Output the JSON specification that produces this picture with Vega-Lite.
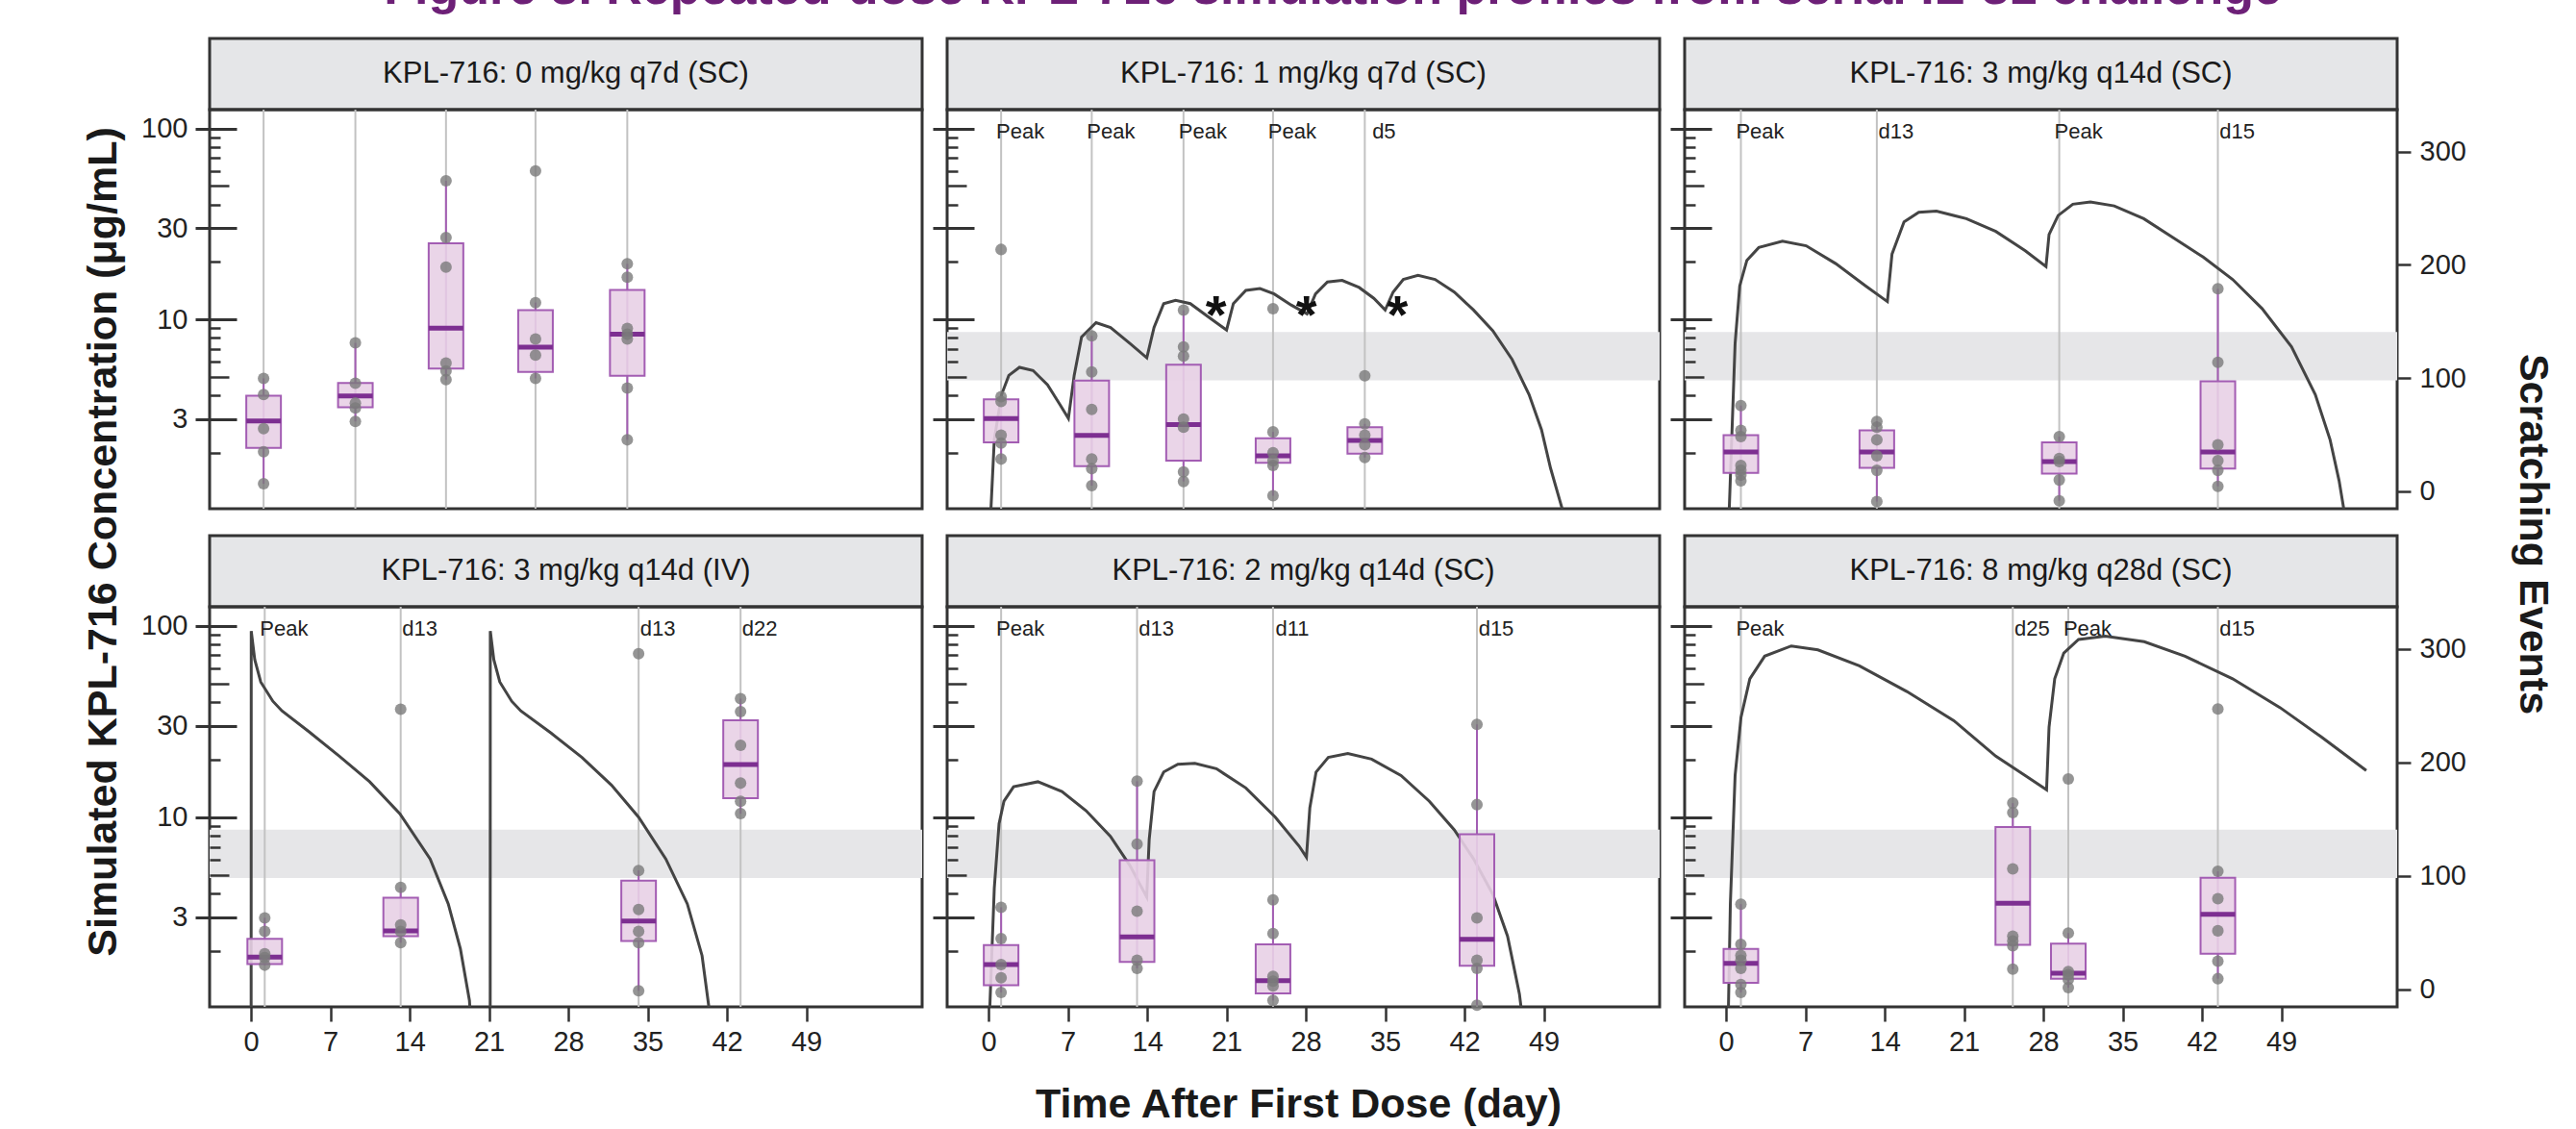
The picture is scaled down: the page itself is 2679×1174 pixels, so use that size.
{
  "$schema": "https://vega.github.io/schema/vega-lite/v6.json",
  "padding": {"top": -39, "left": 87, "right": 12, "bottom": 0},
  "background": "white",
  "config": {
    "font": "Liberation Sans",
    "view": {"stroke": "#333", "strokeWidth": 3},
    "axis": {"domain": false, "grid": false, "tickColor": "#333", "labelFont": "Liberation Sans", "labelFontSize": 29, "labelColor": "#222"},
    "text": {"font": "Liberation Sans"},
    "title": {"font": "Liberation Sans"}
  },
  "datasets": {
    "panels": [
      {"p": 1, "t": "KPL-716: 0 mg/kg q7d (SC)"},
      {"p": 2, "t": "KPL-716: 1 mg/kg q7d (SC)"},
      {"p": 3, "t": "KPL-716: 3 mg/kg q14d (SC)"},
      {"p": 4, "t": "KPL-716: 3 mg/kg q14d (IV)"},
      {"p": 5, "t": "KPL-716: 2 mg/kg q14d (SC)"},
      {"p": 6, "t": "KPL-716: 8 mg/kg q28d (SC)"}
    ],
    "band": [
      {"p": 2, "lo": 4.8, "hi": 8.6},
      {"p": 3, "lo": 4.8, "hi": 8.6},
      {"p": 4, "lo": 4.8, "hi": 8.6},
      {"p": 5, "lo": 4.8, "hi": 8.6},
      {"p": 6, "lo": 4.8, "hi": 8.6}
    ],
    "rules": [
      {"p": 1, "d": 1.1, "lab": ""}, {"p": 1, "d": 9.2, "lab": ""}, {"p": 1, "d": 17.2, "lab": ""}, {"p": 1, "d": 25.1, "lab": ""}, {"p": 1, "d": 33.2, "lab": ""},
      {"p": 2, "d": 1.1, "lab": "Peak"}, {"p": 2, "d": 9.1, "lab": "Peak"}, {"p": 2, "d": 17.2, "lab": "Peak"}, {"p": 2, "d": 25.1, "lab": "Peak"}, {"p": 2, "d": 33.2, "lab": "d5"},
      {"p": 3, "d": 1.3, "lab": "Peak"}, {"p": 3, "d": 13.3, "lab": "d13"}, {"p": 3, "d": 29.4, "lab": "Peak"}, {"p": 3, "d": 43.4, "lab": "d15"},
      {"p": 4, "d": 1.2, "lab": "Peak"}, {"p": 4, "d": 13.2, "lab": "d13"}, {"p": 4, "d": 34.2, "lab": "d13"}, {"p": 4, "d": 43.2, "lab": "d22"},
      {"p": 5, "d": 1.1, "lab": "Peak"}, {"p": 5, "d": 13.1, "lab": "d13"}, {"p": 5, "d": 25.1, "lab": "d11"}, {"p": 5, "d": 43.1, "lab": "d15"},
      {"p": 6, "d": 1.3, "lab": "Peak"}, {"p": 6, "d": 25.3, "lab": "d25"}, {"p": 6, "d": 30.2, "lab": "Peak"}, {"p": 6, "d": 43.4, "lab": "d15"}
    ],
    "box": [
      {"p": 1, "d": 1.1, "lo": 6.5, "q1": 38.2, "med": 62, "q3": 84.3, "hi": 99.6},
      {"p": 1, "d": 9.2, "lo": 61.6, "q1": 74.1, "med": 84, "q3": 95.6, "hi": 131},
      {"p": 1, "d": 17.2, "lo": 98.5, "q1": 108.4, "med": 144, "q3": 219, "hi": 274.3},
      {"p": 1, "d": 25.1, "lo": 99.6, "q1": 105.3, "med": 127.3, "q3": 159.9, "hi": 166.6},
      {"p": 1, "d": 33.2, "lo": 45.3, "q1": 101.9, "med": 138.6, "q3": 177.7, "hi": 200.9},
      {"p": 2, "d": 1.1, "lo": 28.3, "q1": 43, "med": 64.2, "q3": 81.2, "hi": 83.5},
      {"p": 2, "d": 9.1, "lo": 4.8, "q1": 22.1, "med": 49.2, "q3": 97.6, "hi": 137.2},
      {"p": 2, "d": 17.2, "lo": 8.5, "q1": 26.8, "med": 58.8, "q3": 111.7, "hi": 159.9},
      {"p": 2, "d": 25.1, "lo": -4.2, "q1": 24.9, "med": 31.1, "q3": 46.7, "hi": 52.3},
      {"p": 2, "d": 33.2, "lo": 29.7, "q1": 33.1, "med": 44.7, "q3": 56.5, "hi": 59.4},
      {"p": 3, "d": 1.3, "lo": 9, "q1": 16.1, "med": 34.5, "q3": 49.5, "hi": 75.6},
      {"p": 3, "d": 13.3, "lo": -9.3, "q1": 20.6, "med": 34.5, "q3": 53.7, "hi": 61.6},
      {"p": 3, "d": 29.4, "lo": -8.5, "q1": 15.5, "med": 26, "q3": 43, "hi": 48.1},
      {"p": 3, "d": 43.4, "lo": 4.2, "q1": 19.8, "med": 34.5, "q3": 97, "hi": 178.8},
      {"p": 4, "d": 1.2, "lo": 21.2, "q1": 22.1, "med": 28.3, "q3": 44.4, "hi": 62.9},
      {"p": 4, "d": 13.2, "lo": 41, "q1": 46.7, "med": 51.5, "q3": 80.7, "hi": 89.7},
      {"p": 4, "d": 34.2, "lo": -1.4, "q1": 42.5, "med": 60, "q3": 95.7, "hi": 104.7},
      {"p": 4, "d": 43.2, "lo": 154.8, "q1": 168.4, "med": 198.1, "q3": 237.2, "hi": 256.2},
      {"p": 5, "d": 1.1, "lo": -2.8, "q1": 3.4, "med": 21.8, "q3": 38.8, "hi": 72.2},
      {"p": 5, "d": 13.1, "lo": 18.4, "q1": 24, "med": 46.1, "q3": 113.8, "hi": 183.4},
      {"p": 5, "d": 25.1, "lo": -9.9, "q1": -3.7, "med": 7.6, "q3": 39.6, "hi": 78.7},
      {"p": 5, "d": 43.1, "lo": -14.2, "q1": 20.6, "med": 43.9, "q3": 136.7, "hi": 233.5},
      {"p": 6, "d": 1.3, "lo": -2.8, "q1": 5.7, "med": 22.7, "q3": 35.4, "hi": 75},
      {"p": 6, "d": 25.3, "lo": 17.6, "q1": 39.1, "med": 75.8, "q3": 142.9, "hi": 164.1},
      {"p": 6, "d": 30.2, "lo": 1.4, "q1": 9.3, "med": 14.1, "q3": 40.2, "hi": 49.5},
      {"p": 6, "d": 43.4, "lo": 9.3, "q1": 31.2, "med": 66, "q3": 98.2, "hi": 103.9}
    ],
    "pts": [
      {"p":1,"d":1.1,"s":99.6},{"p":1,"d":1.1,"s":85.4},{"p":1,"d":1.1,"s":55.2},{"p":1,"d":1.1,"s":34.8},{"p":1,"d":1.1,"s":6.5},
      {"p":1,"d":9.2,"s":131},{"p":1,"d":9.2,"s":95.3},{"p":1,"d":9.2,"s":77.8},{"p":1,"d":9.2,"s":73.5},{"p":1,"d":9.2,"s":61.6},
      {"p":1,"d":17.2,"s":274.3},{"p":1,"d":17.2,"s":224.1},{"p":1,"d":17.2,"s":198},{"p":1,"d":17.2,"s":113.2},{"p":1,"d":17.2,"s":106.1},{"p":1,"d":17.2,"s":98.5},
      {"p":1,"d":25.1,"s":283},{"p":1,"d":25.1,"s":166.6},{"p":1,"d":25.1,"s":134.4},{"p":1,"d":25.1,"s":120.2},{"p":1,"d":25.1,"s":99.6},
      {"p":1,"d":33.2,"s":200.9},{"p":1,"d":33.2,"s":189},{"p":1,"d":33.2,"s":143.7},{"p":1,"d":33.2,"s":138.6},{"p":1,"d":33.2,"s":134.4},{"p":1,"d":33.2,"s":91.1},{"p":1,"d":33.2,"s":45.3},
      {"p":2,"d":1.1,"s":213.6},{"p":2,"d":1.1,"s":83.5},{"p":2,"d":1.1,"s":79.2},{"p":2,"d":1.1,"s":49.5},{"p":2,"d":1.1,"s":42.5},{"p":2,"d":1.1,"s":28.3},
      {"p":2,"d":9.1,"s":137.2},{"p":2,"d":9.1,"s":105.3},{"p":2,"d":9.1,"s":72.2},{"p":2,"d":9.1,"s":28.3},{"p":2,"d":9.1,"s":19.8},{"p":2,"d":9.1,"s":4.8},
      {"p":2,"d":17.2,"s":159.9},{"p":2,"d":17.2,"s":127.4},{"p":2,"d":17.2,"s":119.4},{"p":2,"d":17.2,"s":63.7},{"p":2,"d":17.2,"s":56.5},{"p":2,"d":17.2,"s":17},{"p":2,"d":17.2,"s":8.5},
      {"p":2,"d":25.1,"s":161.3},{"p":2,"d":25.1,"s":52.3},{"p":2,"d":25.1,"s":34},{"p":2,"d":25.1,"s":26.8},{"p":2,"d":25.1,"s":22.6},{"p":2,"d":25.1,"s":-4.2},
      {"p":2,"d":33.2,"s":101.9},{"p":2,"d":33.2,"s":59.4},{"p":2,"d":33.2,"s":49.5},{"p":2,"d":33.2,"s":41},{"p":2,"d":33.2,"s":29.7},
      {"p":3,"d":1.3,"s":75.6},{"p":3,"d":1.3,"s":53.7},{"p":3,"d":1.3,"s":48.1},{"p":3,"d":1.3,"s":22.6},{"p":3,"d":1.3,"s":18.3},{"p":3,"d":1.3,"s":14.1},{"p":3,"d":1.3,"s":9},
      {"p":3,"d":13.3,"s":61.6},{"p":3,"d":13.3,"s":56.5},{"p":3,"d":13.3,"s":45.3},{"p":3,"d":13.3,"s":31.1},{"p":3,"d":13.3,"s":18.3},{"p":3,"d":13.3,"s":-9.3},
      {"p":3,"d":29.4,"s":48.1},{"p":3,"d":29.4,"s":28.9},{"p":3,"d":29.4,"s":26},{"p":3,"d":29.4,"s":9.8},{"p":3,"d":29.4,"s":-8.5},
      {"p":3,"d":43.4,"s":178.8},{"p":3,"d":43.4,"s":113.8},{"p":3,"d":43.4,"s":41},{"p":3,"d":43.4,"s":26.8},{"p":3,"d":43.4,"s":18.3},{"p":3,"d":43.4,"s":4.2},
      {"p":4,"d":1.2,"s":62.9},{"p":4,"d":1.2,"s":51},{"p":4,"d":1.2,"s":31.2},{"p":4,"d":1.2,"s":27.8},{"p":4,"d":1.2,"s":21.2},
      {"p":4,"d":13.2,"s":246.8},{"p":4,"d":13.2,"s":89.7},{"p":4,"d":13.2,"s":56.6},{"p":4,"d":13.2,"s":50.9},{"p":4,"d":13.2,"s":41},
      {"p":4,"d":34.2,"s":295.8},{"p":4,"d":34.2,"s":104.7},{"p":4,"d":34.2,"s":70.2},{"p":4,"d":34.2,"s":51},{"p":4,"d":34.2,"s":41},{"p":4,"d":34.2,"s":-1.4},
      {"p":4,"d":43.2,"s":256.2},{"p":4,"d":43.2,"s":244.8},{"p":4,"d":43.2,"s":215.1},{"p":4,"d":43.2,"s":181.7},{"p":4,"d":43.2,"s":165.6},{"p":4,"d":43.2,"s":154.8},
      {"p":5,"d":1.1,"s":72.2},{"p":5,"d":1.1,"s":44.7},{"p":5,"d":1.1,"s":21.8},{"p":5,"d":1.1,"s":10},{"p":5,"d":1.1,"s":-2.8},
      {"p":5,"d":13.1,"s":183.4},{"p":5,"d":13.1,"s":127.9},{"p":5,"d":13.1,"s":68.8},{"p":5,"d":13.1,"s":25.5},{"p":5,"d":13.1,"s":18.4},
      {"p":5,"d":25.1,"s":78.7},{"p":5,"d":25.1,"s":49},{"p":5,"d":25.1,"s":11.3},{"p":5,"d":25.1,"s":7},{"p":5,"d":25.1,"s":2.8},{"p":5,"d":25.1,"s":-9.9},
      {"p":5,"d":43.1,"s":233.5},{"p":5,"d":43.1,"s":162.8},{"p":5,"d":43.1,"s":62.8},{"p":5,"d":43.1,"s":25.5},{"p":5,"d":43.1,"s":18.4},{"p":5,"d":43.1,"s":-14.2},
      {"p":6,"d":1.3,"s":75},{"p":6,"d":1.3,"s":39.6},{"p":6,"d":1.3,"s":29.7},{"p":6,"d":1.3,"s":25.5},{"p":6,"d":1.3,"s":18.4},{"p":6,"d":1.3,"s":4.2},{"p":6,"d":1.3,"s":-2.8},
      {"p":6,"d":25.3,"s":164.1},{"p":6,"d":25.3,"s":155.7},{"p":6,"d":25.3,"s":106.1},{"p":6,"d":25.3,"s":46.7},{"p":6,"d":25.3,"s":42.5},{"p":6,"d":25.3,"s":38.2},{"p":6,"d":25.3,"s":17.6},
      {"p":6,"d":30.2,"s":185.4},{"p":6,"d":30.2,"s":49.5},{"p":6,"d":30.2,"s":15.5},{"p":6,"d":30.2,"s":12.7},{"p":6,"d":30.2,"s":8.5},{"p":6,"d":30.2,"s":1.4},
      {"p":6,"d":43.4,"s":247.1},{"p":6,"d":43.4,"s":103.9},{"p":6,"d":43.4,"s":79.8},{"p":6,"d":43.4,"s":51.5},{"p":6,"d":43.4,"s":24.6},{"p":6,"d":43.4,"s":9.3}
    ],
    "pk": [
      {"p":2,"d":0,"c":0.5},{"p":2,"d":0.16,"c":0.9},{"p":2,"d":0.5,"c":2.35},{"p":2,"d":1.14,"c":4.04},{"p":2,"d":1.78,"c":5.09},{"p":2,"d":2.72,"c":5.61},{"p":2,"d":3.92,"c":5.4},{"p":2,"d":5.2,"c":4.54},{"p":2,"d":6.27,"c":3.6},{"p":2,"d":7.04,"c":3.03},
      {"p":2,"d":7.55,"c":5.09},{"p":2,"d":8.2,"c":8.09},{"p":2,"d":9.48,"c":9.62},{"p":2,"d":10.76,"c":9.08},{"p":2,"d":12.47,"c":7.49},{"p":2,"d":13.96,"c":6.29},
      {"p":2,"d":14.6,"c":9.08},{"p":2,"d":15.45,"c":12.1},{"p":2,"d":16.5,"c":12.6},{"p":2,"d":17.8,"c":12.1},{"p":2,"d":19.3,"c":10.4},{"p":2,"d":21.0,"c":8.8},
      {"p":2,"d":21.6,"c":12.1},{"p":2,"d":22.7,"c":14.2},{"p":2,"d":23.95,"c":14.5},{"p":2,"d":25.2,"c":13.6},{"p":2,"d":26.7,"c":11.9},{"p":2,"d":28.1,"c":10.7},
      {"p":2,"d":28.85,"c":13.6},{"p":2,"d":29.9,"c":15.7},{"p":2,"d":31.2,"c":16.0},{"p":2,"d":32.7,"c":14.7},{"p":2,"d":34.0,"c":12.9},{"p":2,"d":35.0,"c":11.2},
      {"p":2,"d":35.7,"c":13.9},{"p":2,"d":36.6,"c":16.2},{"p":2,"d":37.9,"c":17.0},{"p":2,"d":39.4,"c":16.2},{"p":2,"d":41.1,"c":13.9},{"p":2,"d":42.8,"c":11.2},{"p":2,"d":44.5,"c":8.73},{"p":2,"d":46.2,"c":6.17},{"p":2,"d":47.7,"c":4.04},{"p":2,"d":48.8,"c":2.64},{"p":2,"d":49.6,"c":1.66},{"p":2,"d":50.6,"c":1.03},{"p":2,"d":51.0,"c":0.8},
      {"p":3,"d":0,"c":0.5},{"p":3,"d":0.27,"c":1.0},{"p":3,"d":0.79,"c":7.49},{"p":3,"d":1.2,"c":15.0},{"p":3,"d":1.83,"c":20.4},{"p":3,"d":2.88,"c":23.8},{"p":3,"d":4.97,"c":25.7},{"p":3,"d":7.06,"c":24.3},{"p":3,"d":9.67,"c":19.6},{"p":3,"d":12.3,"c":15.0},{"p":3,"d":14.23,"c":12.4},
      {"p":3,"d":14.64,"c":22.0},{"p":3,"d":15.7,"c":32.4},{"p":3,"d":17.0,"c":36.4},{"p":3,"d":18.56,"c":36.9},{"p":3,"d":21.2,"c":33.7},{"p":3,"d":23.8,"c":28.9},{"p":3,"d":26.4,"c":22.9},{"p":3,"d":28.23,"c":18.9},
      {"p":3,"d":28.5,"c":27.8},{"p":3,"d":29.3,"c":35.0},{"p":3,"d":30.6,"c":40.1},{"p":3,"d":32.15,"c":41.2},{"p":3,"d":34.25,"c":39.3},{"p":3,"d":36.86,"c":33.7},{"p":3,"d":39.5,"c":26.7},{"p":3,"d":42.1,"c":21.2},{"p":3,"d":44.7,"c":16.2},{"p":3,"d":47.3,"c":11.4},{"p":3,"d":49.9,"c":7.2},{"p":3,"d":52.0,"c":4.04},{"p":3,"d":53.3,"c":2.35},{"p":3,"d":54.1,"c":1.43},{"p":3,"d":54.5,"c":1.03},{"p":3,"d":54.7,"c":0.8},
      {"p":4,"d":0,"c":0.5},{"p":4,"d":0.01,"c":93.8},{"p":4,"d":0.32,"c":66.5},{"p":4,"d":0.85,"c":50.8},{"p":4,"d":1.92,"c":40.3},{"p":4,"d":2.72,"c":35.9},{"p":4,"d":5.12,"c":27.9},{"p":4,"d":7.79,"c":20.8},{"p":4,"d":10.46,"c":15.3},{"p":4,"d":13.13,"c":10.4},{"p":4,"d":15.8,"c":6.05},{"p":4,"d":17.4,"c":3.52},{"p":4,"d":18.47,"c":2.05},{"p":4,"d":19.27,"c":1.1},{"p":4,"d":19.6,"c":0.5},
      {"p":4,"d":21.1,"c":0.5},{"p":4,"d":21.11,"c":93.8},{"p":4,"d":21.42,"c":66.5},{"p":4,"d":21.95,"c":50.8},{"p":4,"d":23.0,"c":40.3},{"p":4,"d":23.8,"c":35.9},{"p":4,"d":26.5,"c":27.4},{"p":4,"d":29.2,"c":20.5},{"p":4,"d":31.8,"c":14.7},{"p":4,"d":34.2,"c":10.0},{"p":4,"d":36.6,"c":6.05},{"p":4,"d":38.5,"c":3.52},{"p":4,"d":39.8,"c":1.89},{"p":4,"d":40.4,"c":1.02},{"p":4,"d":40.6,"c":0.5},
      {"p":5,"d":0,"c":0.5},{"p":5,"d":0.1,"c":1.0},{"p":5,"d":0.5,"c":4.27},{"p":5,"d":0.92,"c":9.25},{"p":5,"d":1.35,"c":12.1},{"p":5,"d":2.2,"c":14.4},{"p":5,"d":4.35,"c":15.3},{"p":5,"d":6.47,"c":13.6},{"p":5,"d":8.6,"c":10.8},{"p":5,"d":10.75,"c":7.93},{"p":5,"d":12.46,"c":5.6},{"p":5,"d":13.95,"c":3.83},
      {"p":5,"d":14.17,"c":7.63},{"p":5,"d":14.6,"c":13.6},{"p":5,"d":15.45,"c":17.2},{"p":5,"d":16.7,"c":18.9},{"p":5,"d":18.2,"c":19.1},{"p":5,"d":20.1,"c":17.9},{"p":5,"d":22.7,"c":14.2},{"p":5,"d":25.3,"c":10.0},{"p":5,"d":27.4,"c":7.06},{"p":5,"d":28.05,"c":6.17},
      {"p":5,"d":28.35,"c":11.2},{"p":5,"d":28.9,"c":17.2},{"p":5,"d":29.98,"c":20.5},{"p":5,"d":31.7,"c":21.5},{"p":5,"d":33.8,"c":20.1},{"p":5,"d":36.4,"c":16.5},{"p":5,"d":38.9,"c":12.1},{"p":5,"d":41.1,"c":8.57},{"p":5,"d":42.8,"c":6.05},{"p":5,"d":44.5,"c":3.95},{"p":5,"d":45.8,"c":2.39},{"p":5,"d":46.85,"c":1.19},{"p":5,"d":47.1,"c":0.9},{"p":5,"d":47.3,"c":0.5},
      {"p":6,"d":0,"c":0.5},{"p":6,"d":0.2,"c":1.0},{"p":6,"d":0.37,"c":3.52},{"p":6,"d":0.79,"c":16.5},{"p":6,"d":1.31,"c":33.2},{"p":6,"d":2.09,"c":52.8},{"p":6,"d":3.4,"c":69.3},{"p":6,"d":5.75,"c":78.4},{"p":6,"d":8.1,"c":74.8},{"p":6,"d":11.76,"c":61.7},{"p":6,"d":15.95,"c":45.3},{"p":6,"d":20.1,"c":31.9},{"p":6,"d":23.8,"c":20.8},{"p":6,"d":26.4,"c":16.5},{"p":6,"d":28.28,"c":13.9},
      {"p":6,"d":28.5,"c":29.5},{"p":6,"d":29.0,"c":52.8},{"p":6,"d":29.8,"c":72.0},{"p":6,"d":31.1,"c":84.7},{"p":6,"d":33.46,"c":88.1},{"p":6,"d":36.9,"c":82.5},{"p":6,"d":40.5,"c":69.3},{"p":6,"d":44.7,"c":52.8},{"p":6,"d":48.9,"c":37.3},{"p":6,"d":52.5,"c":26.3},{"p":6,"d":56.5,"c":17.5}
    ],
    "stars": [
      {"p": 2, "d": 20.06, "c": 12.27},
      {"p": 2, "d": 28.05, "c": 12.27},
      {"p": 2, "d": 36.08, "c": 12.27}
    ]
  },
  "title": {"text": "Figure 3. Repeated-dose KPL-716 simulation profiles from serial IL-31 challenge", "fontSize": 52, "fontWeight": "bold", "color": "#6d2077", "anchor": "middle", "baseline": "alphabetic", "offset": -17, "dx": 15},
  "hconcat": [{
    "title": {"text": "Simulated KPL-716 Concentration (μg/mL)", "orient": "left", "fontSize": 43, "fontWeight": "bold", "color": "#1a1a1a", "anchor": "middle", "baseline": "bottom", "offset": -28, "dx": 41},
    "hconcat": [{
      "title": {"text": "Scratching Events", "orient": "right", "fontSize": 43, "fontWeight": "bold", "color": "#1a1a1a", "anchor": "middle", "baseline": "bottom", "offset": 3, "dx": -49},
      "hconcat": [{
        "title": {"text": "Time After First Dose (day)", "orient": "bottom", "fontSize": 43, "fontWeight": "bold", "color": "#1a1a1a", "anchor": "middle", "baseline": "top", "offset": 28, "dx": -5},
        "columns": 3,
        "bounds": "flush",
        "spacing": {"row": 0, "column": 26},
        "concat": [
          {"width": 741, "height": 74, "view": {"fill": "#e5e6e8", "stroke": "#333", "strokeWidth": 3}, "data": {"name": "panels"}, "transform": [{"filter": "datum.p == 1"}], "mark": {"type": "text", "fontSize": 31, "color": "#1a1a1a"}, "encoding": {"text": {"field": "t"}}},
          {"width": 741, "height": 74, "view": {"fill": "#e5e6e8", "stroke": "#333", "strokeWidth": 3}, "data": {"name": "panels"}, "transform": [{"filter": "datum.p == 2"}], "mark": {"type": "text", "fontSize": 31, "color": "#1a1a1a"}, "encoding": {"text": {"field": "t"}}},
          {"width": 741, "height": 74, "view": {"fill": "#e5e6e8", "stroke": "#333", "strokeWidth": 3}, "data": {"name": "panels"}, "transform": [{"filter": "datum.p == 3"}], "mark": {"type": "text", "fontSize": 31, "color": "#1a1a1a"}, "encoding": {"text": {"field": "t"}}},

          {"width": 741, "height": 415, "resolve": {"scale": {"y": "independent"}}, "layer": [
            {"data": {"name": "band"}, "transform": [{"filter": "datum.p == 1"}], "mark": {"type": "rect", "color": "#e6e6e8"}, "encoding": {"y": {"field": "lo", "type": "quantitative", "scale": {"type": "log", "domain": [1.02, 125.5], "nice": false}, "axis": {"orient": "left", "values": [3, 10, 30, 100], "format": "d", "offset": -28, "tickSize": 43, "tickWidth": 3, "labelPadding": 8, "title": null, "zindex": 1}}, "y2": {"field": "hi"}}},
            {"data": {"name": "rules"}, "transform": [{"filter": "datum.p == 1"}], "mark": {"type": "rule", "color": "#c2c2c2", "strokeWidth": 2}, "encoding": {"x": {"field": "d", "type": "quantitative", "scale": {"domain": [-3.24, 58.8], "nice": false, "zero": false}, "axis": null}}},
            {"data": {"name": "pk"}, "transform": [{"filter": "datum.p == 1"}], "mark": {"type": "line", "color": "#444", "strokeWidth": 3, "clip": true}, "encoding": {"x": {"field": "d", "type": "quantitative", "scale": {"domain": [-3.24, 58.8], "nice": false, "zero": false}, "axis": null}, "y": {"field": "c", "type": "quantitative", "scale": {"type": "log", "domain": [1.02, 125.5], "nice": false}, "axis": {"orient": "left", "values": [2, 4, 6, 7, 8, 9, 20, 40, 60, 70, 80, 90], "offset": -11, "tickSize": 11, "tickWidth": 2.5, "labels": false, "title": null, "zindex": 1}}}},
            {"data": {"name": "stars"}, "transform": [{"filter": "datum.p == 1"}], "mark": {"type": "text", "text": "*", "fontSize": 56, "fontWeight": "bold", "baseline": "alphabetic", "dy": 31, "color": "#111"}, "encoding": {"x": {"field": "d", "type": "quantitative", "scale": {"domain": [-3.24, 58.8], "nice": false, "zero": false}, "axis": null}, "y": {"field": "c", "type": "quantitative", "scale": {"type": "log", "domain": [1.02, 125.5], "nice": false}, "axis": {"orient": "left", "values": [5, 50], "offset": -20, "tickSize": 20, "tickWidth": 2.5, "labels": false, "title": null, "zindex": 1}}}},
            {"data": {"name": "box"}, "transform": [{"filter": "datum.p == 1"}], "mark": {"type": "rule", "color": "#a35db3", "strokeWidth": 2}, "encoding": {"x": {"field": "d", "type": "quantitative", "scale": {"domain": [-3.24, 58.8], "nice": false, "zero": false}, "axis": null}, "y": {"field": "lo", "type": "quantitative", "scale": {"domain": [-15.6, 337.2], "nice": false, "zero": false}, "axis": null}, "y2": {"field": "hi"}}},
            {"data": {"name": "box"}, "transform": [{"filter": "datum.p == 1"}], "mark": {"type": "bar", "width": 36, "fill": "#e8d0e6", "stroke": "#a35db3", "strokeWidth": 2, "fillOpacity": 0.9}, "encoding": {"x": {"field": "d", "type": "quantitative", "scale": {"domain": [-3.24, 58.8], "nice": false, "zero": false}, "axis": null}, "y": {"field": "q1", "type": "quantitative", "scale": {"domain": [-15.6, 337.2], "nice": false, "zero": false}, "axis": null}, "y2": {"field": "q3"}}},
            {"data": {"name": "box"}, "transform": [{"filter": "datum.p == 1"}], "mark": {"type": "tick", "orient": "horizontal", "size": 36, "thickness": 5, "color": "#7d2f91", "opacity": 1}, "encoding": {"x": {"field": "d", "type": "quantitative", "scale": {"domain": [-3.24, 58.8], "nice": false, "zero": false}, "axis": null}, "y": {"field": "med", "type": "quantitative", "scale": {"domain": [-15.6, 337.2], "nice": false, "zero": false}, "axis": null}}},
            {"data": {"name": "pts"}, "transform": [{"filter": "datum.p == 1"}], "mark": {"type": "circle", "size": 145, "color": "#7a7a7a", "opacity": 0.8}, "encoding": {"x": {"field": "d", "type": "quantitative", "scale": {"domain": [-3.24, 58.8], "nice": false, "zero": false}, "axis": null}, "y": {"field": "s", "type": "quantitative", "scale": {"domain": [-15.6, 337.2], "nice": false, "zero": false}, "axis": null}}}
          ]},

          {"width": 741, "height": 415, "resolve": {"scale": {"y": "independent"}}, "layer": [
            {"data": {"name": "band"}, "transform": [{"filter": "datum.p == 2"}], "mark": {"type": "rect", "color": "#e6e6e8"}, "encoding": {"y": {"field": "lo", "type": "quantitative", "scale": {"type": "log", "domain": [1.02, 125.5], "nice": false}, "axis": {"orient": "left", "values": [3, 10, 30, 100], "format": "d", "offset": -28, "tickSize": 43, "tickWidth": 3, "labels": false, "title": null, "zindex": 1}}, "y2": {"field": "hi"}}},
            {"data": {"name": "rules"}, "transform": [{"filter": "datum.p == 2"}], "mark": {"type": "rule", "color": "#c2c2c2", "strokeWidth": 2}, "encoding": {"x": {"field": "d", "type": "quantitative", "scale": {"domain": [-3.24, 58.8], "nice": false, "zero": false}, "axis": null}}},
            {"data": {"name": "rules"}, "transform": [{"filter": "datum.p == 2"}], "mark": {"type": "text", "fontSize": 22, "dx": 20, "color": "#222"}, "encoding": {"x": {"field": "d", "type": "quantitative", "scale": {"domain": [-3.24, 58.8], "nice": false, "zero": false}, "axis": null}, "y": {"datum": 96, "type": "quantitative", "scale": {"type": "log", "domain": [1.02, 125.5], "nice": false}, "axis": null}, "text": {"field": "lab"}}},
            {"data": {"name": "pk"}, "transform": [{"filter": "datum.p == 2"}], "mark": {"type": "line", "color": "#444", "strokeWidth": 3, "clip": true}, "encoding": {"x": {"field": "d", "type": "quantitative", "scale": {"domain": [-3.24, 58.8], "nice": false, "zero": false}, "axis": null}, "y": {"field": "c", "type": "quantitative", "scale": {"type": "log", "domain": [1.02, 125.5], "nice": false}, "axis": {"orient": "left", "values": [2, 4, 6, 7, 8, 9, 20, 40, 60, 70, 80, 90], "offset": -11, "tickSize": 11, "tickWidth": 2.5, "labels": false, "title": null, "zindex": 1}}}},
            {"data": {"name": "stars"}, "transform": [{"filter": "datum.p == 2"}], "mark": {"type": "text", "text": "*", "fontSize": 56, "fontWeight": "bold", "baseline": "alphabetic", "dy": 31, "color": "#111"}, "encoding": {"x": {"field": "d", "type": "quantitative", "scale": {"domain": [-3.24, 58.8], "nice": false, "zero": false}, "axis": null}, "y": {"field": "c", "type": "quantitative", "scale": {"type": "log", "domain": [1.02, 125.5], "nice": false}, "axis": {"orient": "left", "values": [5, 50], "offset": -20, "tickSize": 20, "tickWidth": 2.5, "labels": false, "title": null, "zindex": 1}}}},
            {"data": {"name": "box"}, "transform": [{"filter": "datum.p == 2"}], "mark": {"type": "rule", "color": "#a35db3", "strokeWidth": 2}, "encoding": {"x": {"field": "d", "type": "quantitative", "scale": {"domain": [-3.24, 58.8], "nice": false, "zero": false}, "axis": null}, "y": {"field": "lo", "type": "quantitative", "scale": {"domain": [-15.6, 337.2], "nice": false, "zero": false}, "axis": null}, "y2": {"field": "hi"}}},
            {"data": {"name": "box"}, "transform": [{"filter": "datum.p == 2"}], "mark": {"type": "bar", "width": 36, "fill": "#e8d0e6", "stroke": "#a35db3", "strokeWidth": 2, "fillOpacity": 0.9}, "encoding": {"x": {"field": "d", "type": "quantitative", "scale": {"domain": [-3.24, 58.8], "nice": false, "zero": false}, "axis": null}, "y": {"field": "q1", "type": "quantitative", "scale": {"domain": [-15.6, 337.2], "nice": false, "zero": false}, "axis": null}, "y2": {"field": "q3"}}},
            {"data": {"name": "box"}, "transform": [{"filter": "datum.p == 2"}], "mark": {"type": "tick", "orient": "horizontal", "size": 36, "thickness": 5, "color": "#7d2f91", "opacity": 1}, "encoding": {"x": {"field": "d", "type": "quantitative", "scale": {"domain": [-3.24, 58.8], "nice": false, "zero": false}, "axis": null}, "y": {"field": "med", "type": "quantitative", "scale": {"domain": [-15.6, 337.2], "nice": false, "zero": false}, "axis": null}}},
            {"data": {"name": "pts"}, "transform": [{"filter": "datum.p == 2"}], "mark": {"type": "circle", "size": 145, "color": "#7a7a7a", "opacity": 0.8}, "encoding": {"x": {"field": "d", "type": "quantitative", "scale": {"domain": [-3.24, 58.8], "nice": false, "zero": false}, "axis": null}, "y": {"field": "s", "type": "quantitative", "scale": {"domain": [-15.6, 337.2], "nice": false, "zero": false}, "axis": null}}}
          ]},

          {"width": 741, "height": 415, "resolve": {"scale": {"y": "independent"}}, "layer": [
            {"data": {"name": "band"}, "transform": [{"filter": "datum.p == 3"}], "mark": {"type": "rect", "color": "#e6e6e8"}, "encoding": {"y": {"field": "lo", "type": "quantitative", "scale": {"type": "log", "domain": [1.02, 125.5], "nice": false}, "axis": {"orient": "left", "values": [3, 10, 30, 100], "format": "d", "offset": -28, "tickSize": 43, "tickWidth": 3, "labels": false, "title": null, "zindex": 1}}, "y2": {"field": "hi"}}},
            {"data": {"name": "rules"}, "transform": [{"filter": "datum.p == 3"}], "mark": {"type": "rule", "color": "#c2c2c2", "strokeWidth": 2}, "encoding": {"x": {"field": "d", "type": "quantitative", "scale": {"domain": [-3.24, 58.8], "nice": false, "zero": false}, "axis": null}}},
            {"data": {"name": "rules"}, "transform": [{"filter": "datum.p == 3"}], "mark": {"type": "text", "fontSize": 22, "dx": 20, "color": "#222"}, "encoding": {"x": {"field": "d", "type": "quantitative", "scale": {"domain": [-3.24, 58.8], "nice": false, "zero": false}, "axis": null}, "y": {"datum": 96, "type": "quantitative", "scale": {"type": "log", "domain": [1.02, 125.5], "nice": false}, "axis": null}, "text": {"field": "lab"}}},
            {"data": {"name": "pk"}, "transform": [{"filter": "datum.p == 3"}], "mark": {"type": "line", "color": "#444", "strokeWidth": 3, "clip": true}, "encoding": {"x": {"field": "d", "type": "quantitative", "scale": {"domain": [-3.24, 58.8], "nice": false, "zero": false}, "axis": null}, "y": {"field": "c", "type": "quantitative", "scale": {"type": "log", "domain": [1.02, 125.5], "nice": false}, "axis": {"orient": "left", "values": [2, 4, 6, 7, 8, 9, 20, 40, 60, 70, 80, 90], "offset": -11, "tickSize": 11, "tickWidth": 2.5, "labels": false, "title": null, "zindex": 1}}}},
            {"data": {"name": "stars"}, "transform": [{"filter": "datum.p == 3"}], "mark": {"type": "text", "text": "*", "fontSize": 56, "fontWeight": "bold", "baseline": "alphabetic", "dy": 31, "color": "#111"}, "encoding": {"x": {"field": "d", "type": "quantitative", "scale": {"domain": [-3.24, 58.8], "nice": false, "zero": false}, "axis": null}, "y": {"field": "c", "type": "quantitative", "scale": {"type": "log", "domain": [1.02, 125.5], "nice": false}, "axis": {"orient": "left", "values": [5, 50], "offset": -20, "tickSize": 20, "tickWidth": 2.5, "labels": false, "title": null, "zindex": 1}}}},
            {"data": {"name": "box"}, "transform": [{"filter": "datum.p == 3"}], "mark": {"type": "rule", "color": "#a35db3", "strokeWidth": 2}, "encoding": {"x": {"field": "d", "type": "quantitative", "scale": {"domain": [-3.24, 58.8], "nice": false, "zero": false}, "axis": null}, "y": {"field": "lo", "type": "quantitative", "scale": {"domain": [-15.6, 337.2], "nice": false, "zero": false}, "axis": {"orient": "right", "values": [0, 100, 200, 300], "tickSize": 14, "tickWidth": 2.5, "labelPadding": 9, "title": null}}, "y2": {"field": "hi"}}},
            {"data": {"name": "box"}, "transform": [{"filter": "datum.p == 3"}], "mark": {"type": "bar", "width": 36, "fill": "#e8d0e6", "stroke": "#a35db3", "strokeWidth": 2, "fillOpacity": 0.9}, "encoding": {"x": {"field": "d", "type": "quantitative", "scale": {"domain": [-3.24, 58.8], "nice": false, "zero": false}, "axis": null}, "y": {"field": "q1", "type": "quantitative", "scale": {"domain": [-15.6, 337.2], "nice": false, "zero": false}, "axis": null}, "y2": {"field": "q3"}}},
            {"data": {"name": "box"}, "transform": [{"filter": "datum.p == 3"}], "mark": {"type": "tick", "orient": "horizontal", "size": 36, "thickness": 5, "color": "#7d2f91", "opacity": 1}, "encoding": {"x": {"field": "d", "type": "quantitative", "scale": {"domain": [-3.24, 58.8], "nice": false, "zero": false}, "axis": null}, "y": {"field": "med", "type": "quantitative", "scale": {"domain": [-15.6, 337.2], "nice": false, "zero": false}, "axis": null}}},
            {"data": {"name": "pts"}, "transform": [{"filter": "datum.p == 3"}], "mark": {"type": "circle", "size": 145, "color": "#7a7a7a", "opacity": 0.8}, "encoding": {"x": {"field": "d", "type": "quantitative", "scale": {"domain": [-3.24, 58.8], "nice": false, "zero": false}, "axis": null}, "y": {"field": "s", "type": "quantitative", "scale": {"domain": [-15.6, 337.2], "nice": false, "zero": false}, "axis": null}}}
          ]},

          {"width": 741, "height": 102, "view": {"stroke": null}, "data": {"name": "panels"}, "transform": [{"filter": "datum.p == 4"}], "layer": [
            {"mark": {"type": "rect", "fill": "#e5e6e8", "stroke": "#333", "strokeWidth": 3}, "encoding": {"y": {"datum": 0, "type": "quantitative", "scale": {"domain": [0, 102], "nice": false, "zero": false}, "axis": null}, "y2": {"datum": 74}}},
            {"mark": {"type": "text", "fontSize": 31, "color": "#1a1a1a"}, "encoding": {"y": {"datum": 37, "type": "quantitative", "scale": {"domain": [0, 102], "nice": false, "zero": false}, "axis": null}, "text": {"field": "t"}}}
          ]},
          {"width": 741, "height": 102, "view": {"stroke": null}, "data": {"name": "panels"}, "transform": [{"filter": "datum.p == 5"}], "layer": [
            {"mark": {"type": "rect", "fill": "#e5e6e8", "stroke": "#333", "strokeWidth": 3}, "encoding": {"y": {"datum": 0, "type": "quantitative", "scale": {"domain": [0, 102], "nice": false, "zero": false}, "axis": null}, "y2": {"datum": 74}}},
            {"mark": {"type": "text", "fontSize": 31, "color": "#1a1a1a"}, "encoding": {"y": {"datum": 37, "type": "quantitative", "scale": {"domain": [0, 102], "nice": false, "zero": false}, "axis": null}, "text": {"field": "t"}}}
          ]},
          {"width": 741, "height": 102, "view": {"stroke": null}, "data": {"name": "panels"}, "transform": [{"filter": "datum.p == 6"}], "layer": [
            {"mark": {"type": "rect", "fill": "#e5e6e8", "stroke": "#333", "strokeWidth": 3}, "encoding": {"y": {"datum": 0, "type": "quantitative", "scale": {"domain": [0, 102], "nice": false, "zero": false}, "axis": null}, "y2": {"datum": 74}}},
            {"mark": {"type": "text", "fontSize": 31, "color": "#1a1a1a"}, "encoding": {"y": {"datum": 37, "type": "quantitative", "scale": {"domain": [0, 102], "nice": false, "zero": false}, "axis": null}, "text": {"field": "t"}}}
          ]},

          {"width": 741, "height": 416, "resolve": {"scale": {"y": "independent"}}, "layer": [
            {"data": {"name": "band"}, "transform": [{"filter": "datum.p == 4"}], "mark": {"type": "rect", "color": "#e6e6e8"}, "encoding": {"y": {"field": "lo", "type": "quantitative", "scale": {"type": "log", "domain": [1.02, 125.5], "nice": false}, "axis": {"orient": "left", "values": [3, 10, 30, 100], "format": "d", "offset": -28, "tickSize": 43, "tickWidth": 3, "labelPadding": 8, "title": null, "zindex": 1}}, "y2": {"field": "hi"}}},
            {"data": {"name": "rules"}, "transform": [{"filter": "datum.p == 4"}], "mark": {"type": "rule", "color": "#c2c2c2", "strokeWidth": 2}, "encoding": {"x": {"field": "d", "type": "quantitative", "scale": {"domain": [-3.24, 58.8], "nice": false, "zero": false}, "axis": {"orient": "bottom", "values": [0, 7, 14, 21, 28, 35, 42, 49], "tickSize": 15, "tickWidth": 2.5, "labelPadding": 7, "title": null}}}},
            {"data": {"name": "rules"}, "transform": [{"filter": "datum.p == 4"}], "mark": {"type": "text", "fontSize": 22, "dx": 20, "color": "#222"}, "encoding": {"x": {"field": "d", "type": "quantitative", "scale": {"domain": [-3.24, 58.8], "nice": false, "zero": false}, "axis": {"orient": "bottom", "values": [0, 7, 14, 21, 28, 35, 42, 49], "tickSize": 15, "tickWidth": 2.5, "labelPadding": 7, "title": null}}, "y": {"datum": 96, "type": "quantitative", "scale": {"type": "log", "domain": [1.02, 125.5], "nice": false}, "axis": null}, "text": {"field": "lab"}}},
            {"data": {"name": "pk"}, "transform": [{"filter": "datum.p == 4"}], "mark": {"type": "line", "color": "#444", "strokeWidth": 3, "clip": true}, "encoding": {"x": {"field": "d", "type": "quantitative", "scale": {"domain": [-3.24, 58.8], "nice": false, "zero": false}, "axis": {"orient": "bottom", "values": [0, 7, 14, 21, 28, 35, 42, 49], "tickSize": 15, "tickWidth": 2.5, "labelPadding": 7, "title": null}}, "y": {"field": "c", "type": "quantitative", "scale": {"type": "log", "domain": [1.02, 125.5], "nice": false}, "axis": {"orient": "left", "values": [2, 4, 6, 7, 8, 9, 20, 40, 60, 70, 80, 90], "offset": -11, "tickSize": 11, "tickWidth": 2.5, "labels": false, "title": null, "zindex": 1}}}},
            {"data": {"name": "stars"}, "transform": [{"filter": "datum.p == 4"}], "mark": {"type": "text", "text": "*", "fontSize": 56, "fontWeight": "bold", "baseline": "alphabetic", "dy": 31, "color": "#111"}, "encoding": {"x": {"field": "d", "type": "quantitative", "scale": {"domain": [-3.24, 58.8], "nice": false, "zero": false}, "axis": {"orient": "bottom", "values": [0, 7, 14, 21, 28, 35, 42, 49], "tickSize": 15, "tickWidth": 2.5, "labelPadding": 7, "title": null}}, "y": {"field": "c", "type": "quantitative", "scale": {"type": "log", "domain": [1.02, 125.5], "nice": false}, "axis": {"orient": "left", "values": [5, 50], "offset": -20, "tickSize": 20, "tickWidth": 2.5, "labels": false, "title": null, "zindex": 1}}}},
            {"data": {"name": "box"}, "transform": [{"filter": "datum.p == 4"}], "mark": {"type": "rule", "color": "#a35db3", "strokeWidth": 2}, "encoding": {"x": {"field": "d", "type": "quantitative", "scale": {"domain": [-3.24, 58.8], "nice": false, "zero": false}, "axis": {"orient": "bottom", "values": [0, 7, 14, 21, 28, 35, 42, 49], "tickSize": 15, "tickWidth": 2.5, "labelPadding": 7, "title": null}}, "y": {"field": "lo", "type": "quantitative", "scale": {"domain": [-15.6, 337.2], "nice": false, "zero": false}, "axis": null}, "y2": {"field": "hi"}}},
            {"data": {"name": "box"}, "transform": [{"filter": "datum.p == 4"}], "mark": {"type": "bar", "width": 36, "fill": "#e8d0e6", "stroke": "#a35db3", "strokeWidth": 2, "fillOpacity": 0.9}, "encoding": {"x": {"field": "d", "type": "quantitative", "scale": {"domain": [-3.24, 58.8], "nice": false, "zero": false}, "axis": {"orient": "bottom", "values": [0, 7, 14, 21, 28, 35, 42, 49], "tickSize": 15, "tickWidth": 2.5, "labelPadding": 7, "title": null}}, "y": {"field": "q1", "type": "quantitative", "scale": {"domain": [-15.6, 337.2], "nice": false, "zero": false}, "axis": null}, "y2": {"field": "q3"}}},
            {"data": {"name": "box"}, "transform": [{"filter": "datum.p == 4"}], "mark": {"type": "tick", "orient": "horizontal", "size": 36, "thickness": 5, "color": "#7d2f91", "opacity": 1}, "encoding": {"x": {"field": "d", "type": "quantitative", "scale": {"domain": [-3.24, 58.8], "nice": false, "zero": false}, "axis": {"orient": "bottom", "values": [0, 7, 14, 21, 28, 35, 42, 49], "tickSize": 15, "tickWidth": 2.5, "labelPadding": 7, "title": null}}, "y": {"field": "med", "type": "quantitative", "scale": {"domain": [-15.6, 337.2], "nice": false, "zero": false}, "axis": null}}},
            {"data": {"name": "pts"}, "transform": [{"filter": "datum.p == 4"}], "mark": {"type": "circle", "size": 145, "color": "#7a7a7a", "opacity": 0.8}, "encoding": {"x": {"field": "d", "type": "quantitative", "scale": {"domain": [-3.24, 58.8], "nice": false, "zero": false}, "axis": {"orient": "bottom", "values": [0, 7, 14, 21, 28, 35, 42, 49], "tickSize": 15, "tickWidth": 2.5, "labelPadding": 7, "title": null}}, "y": {"field": "s", "type": "quantitative", "scale": {"domain": [-15.6, 337.2], "nice": false, "zero": false}, "axis": null}}}
          ]},

          {"width": 741, "height": 416, "resolve": {"scale": {"y": "independent"}}, "layer": [
            {"data": {"name": "band"}, "transform": [{"filter": "datum.p == 5"}], "mark": {"type": "rect", "color": "#e6e6e8"}, "encoding": {"y": {"field": "lo", "type": "quantitative", "scale": {"type": "log", "domain": [1.02, 125.5], "nice": false}, "axis": {"orient": "left", "values": [3, 10, 30, 100], "format": "d", "offset": -28, "tickSize": 43, "tickWidth": 3, "labels": false, "title": null, "zindex": 1}}, "y2": {"field": "hi"}}},
            {"data": {"name": "rules"}, "transform": [{"filter": "datum.p == 5"}], "mark": {"type": "rule", "color": "#c2c2c2", "strokeWidth": 2}, "encoding": {"x": {"field": "d", "type": "quantitative", "scale": {"domain": [-3.24, 58.8], "nice": false, "zero": false}, "axis": {"orient": "bottom", "values": [0, 7, 14, 21, 28, 35, 42, 49], "tickSize": 15, "tickWidth": 2.5, "labelPadding": 7, "title": null}}}},
            {"data": {"name": "rules"}, "transform": [{"filter": "datum.p == 5"}], "mark": {"type": "text", "fontSize": 22, "dx": 20, "color": "#222"}, "encoding": {"x": {"field": "d", "type": "quantitative", "scale": {"domain": [-3.24, 58.8], "nice": false, "zero": false}, "axis": {"orient": "bottom", "values": [0, 7, 14, 21, 28, 35, 42, 49], "tickSize": 15, "tickWidth": 2.5, "labelPadding": 7, "title": null}}, "y": {"datum": 96, "type": "quantitative", "scale": {"type": "log", "domain": [1.02, 125.5], "nice": false}, "axis": null}, "text": {"field": "lab"}}},
            {"data": {"name": "pk"}, "transform": [{"filter": "datum.p == 5"}], "mark": {"type": "line", "color": "#444", "strokeWidth": 3, "clip": true}, "encoding": {"x": {"field": "d", "type": "quantitative", "scale": {"domain": [-3.24, 58.8], "nice": false, "zero": false}, "axis": {"orient": "bottom", "values": [0, 7, 14, 21, 28, 35, 42, 49], "tickSize": 15, "tickWidth": 2.5, "labelPadding": 7, "title": null}}, "y": {"field": "c", "type": "quantitative", "scale": {"type": "log", "domain": [1.02, 125.5], "nice": false}, "axis": {"orient": "left", "values": [2, 4, 6, 7, 8, 9, 20, 40, 60, 70, 80, 90], "offset": -11, "tickSize": 11, "tickWidth": 2.5, "labels": false, "title": null, "zindex": 1}}}},
            {"data": {"name": "stars"}, "transform": [{"filter": "datum.p == 5"}], "mark": {"type": "text", "text": "*", "fontSize": 56, "fontWeight": "bold", "baseline": "alphabetic", "dy": 31, "color": "#111"}, "encoding": {"x": {"field": "d", "type": "quantitative", "scale": {"domain": [-3.24, 58.8], "nice": false, "zero": false}, "axis": {"orient": "bottom", "values": [0, 7, 14, 21, 28, 35, 42, 49], "tickSize": 15, "tickWidth": 2.5, "labelPadding": 7, "title": null}}, "y": {"field": "c", "type": "quantitative", "scale": {"type": "log", "domain": [1.02, 125.5], "nice": false}, "axis": {"orient": "left", "values": [5, 50], "offset": -20, "tickSize": 20, "tickWidth": 2.5, "labels": false, "title": null, "zindex": 1}}}},
            {"data": {"name": "box"}, "transform": [{"filter": "datum.p == 5"}], "mark": {"type": "rule", "color": "#a35db3", "strokeWidth": 2}, "encoding": {"x": {"field": "d", "type": "quantitative", "scale": {"domain": [-3.24, 58.8], "nice": false, "zero": false}, "axis": {"orient": "bottom", "values": [0, 7, 14, 21, 28, 35, 42, 49], "tickSize": 15, "tickWidth": 2.5, "labelPadding": 7, "title": null}}, "y": {"field": "lo", "type": "quantitative", "scale": {"domain": [-15.6, 337.2], "nice": false, "zero": false}, "axis": null}, "y2": {"field": "hi"}}},
            {"data": {"name": "box"}, "transform": [{"filter": "datum.p == 5"}], "mark": {"type": "bar", "width": 36, "fill": "#e8d0e6", "stroke": "#a35db3", "strokeWidth": 2, "fillOpacity": 0.9}, "encoding": {"x": {"field": "d", "type": "quantitative", "scale": {"domain": [-3.24, 58.8], "nice": false, "zero": false}, "axis": {"orient": "bottom", "values": [0, 7, 14, 21, 28, 35, 42, 49], "tickSize": 15, "tickWidth": 2.5, "labelPadding": 7, "title": null}}, "y": {"field": "q1", "type": "quantitative", "scale": {"domain": [-15.6, 337.2], "nice": false, "zero": false}, "axis": null}, "y2": {"field": "q3"}}},
            {"data": {"name": "box"}, "transform": [{"filter": "datum.p == 5"}], "mark": {"type": "tick", "orient": "horizontal", "size": 36, "thickness": 5, "color": "#7d2f91", "opacity": 1}, "encoding": {"x": {"field": "d", "type": "quantitative", "scale": {"domain": [-3.24, 58.8], "nice": false, "zero": false}, "axis": {"orient": "bottom", "values": [0, 7, 14, 21, 28, 35, 42, 49], "tickSize": 15, "tickWidth": 2.5, "labelPadding": 7, "title": null}}, "y": {"field": "med", "type": "quantitative", "scale": {"domain": [-15.6, 337.2], "nice": false, "zero": false}, "axis": null}}},
            {"data": {"name": "pts"}, "transform": [{"filter": "datum.p == 5"}], "mark": {"type": "circle", "size": 145, "color": "#7a7a7a", "opacity": 0.8}, "encoding": {"x": {"field": "d", "type": "quantitative", "scale": {"domain": [-3.24, 58.8], "nice": false, "zero": false}, "axis": {"orient": "bottom", "values": [0, 7, 14, 21, 28, 35, 42, 49], "tickSize": 15, "tickWidth": 2.5, "labelPadding": 7, "title": null}}, "y": {"field": "s", "type": "quantitative", "scale": {"domain": [-15.6, 337.2], "nice": false, "zero": false}, "axis": null}}}
          ]},

          {"width": 741, "height": 416, "resolve": {"scale": {"y": "independent"}}, "layer": [
            {"data": {"name": "band"}, "transform": [{"filter": "datum.p == 6"}], "mark": {"type": "rect", "color": "#e6e6e8"}, "encoding": {"y": {"field": "lo", "type": "quantitative", "scale": {"type": "log", "domain": [1.02, 125.5], "nice": false}, "axis": {"orient": "left", "values": [3, 10, 30, 100], "format": "d", "offset": -28, "tickSize": 43, "tickWidth": 3, "labels": false, "title": null, "zindex": 1}}, "y2": {"field": "hi"}}},
            {"data": {"name": "rules"}, "transform": [{"filter": "datum.p == 6"}], "mark": {"type": "rule", "color": "#c2c2c2", "strokeWidth": 2}, "encoding": {"x": {"field": "d", "type": "quantitative", "scale": {"domain": [-3.24, 58.8], "nice": false, "zero": false}, "axis": {"orient": "bottom", "values": [0, 7, 14, 21, 28, 35, 42, 49], "tickSize": 15, "tickWidth": 2.5, "labelPadding": 7, "title": null}}}},
            {"data": {"name": "rules"}, "transform": [{"filter": "datum.p == 6"}], "mark": {"type": "text", "fontSize": 22, "dx": 20, "color": "#222"}, "encoding": {"x": {"field": "d", "type": "quantitative", "scale": {"domain": [-3.24, 58.8], "nice": false, "zero": false}, "axis": {"orient": "bottom", "values": [0, 7, 14, 21, 28, 35, 42, 49], "tickSize": 15, "tickWidth": 2.5, "labelPadding": 7, "title": null}}, "y": {"datum": 96, "type": "quantitative", "scale": {"type": "log", "domain": [1.02, 125.5], "nice": false}, "axis": null}, "text": {"field": "lab"}}},
            {"data": {"name": "pk"}, "transform": [{"filter": "datum.p == 6"}], "mark": {"type": "line", "color": "#444", "strokeWidth": 3, "clip": true}, "encoding": {"x": {"field": "d", "type": "quantitative", "scale": {"domain": [-3.24, 58.8], "nice": false, "zero": false}, "axis": {"orient": "bottom", "values": [0, 7, 14, 21, 28, 35, 42, 49], "tickSize": 15, "tickWidth": 2.5, "labelPadding": 7, "title": null}}, "y": {"field": "c", "type": "quantitative", "scale": {"type": "log", "domain": [1.02, 125.5], "nice": false}, "axis": {"orient": "left", "values": [2, 4, 6, 7, 8, 9, 20, 40, 60, 70, 80, 90], "offset": -11, "tickSize": 11, "tickWidth": 2.5, "labels": false, "title": null, "zindex": 1}}}},
            {"data": {"name": "stars"}, "transform": [{"filter": "datum.p == 6"}], "mark": {"type": "text", "text": "*", "fontSize": 56, "fontWeight": "bold", "baseline": "alphabetic", "dy": 31, "color": "#111"}, "encoding": {"x": {"field": "d", "type": "quantitative", "scale": {"domain": [-3.24, 58.8], "nice": false, "zero": false}, "axis": {"orient": "bottom", "values": [0, 7, 14, 21, 28, 35, 42, 49], "tickSize": 15, "tickWidth": 2.5, "labelPadding": 7, "title": null}}, "y": {"field": "c", "type": "quantitative", "scale": {"type": "log", "domain": [1.02, 125.5], "nice": false}, "axis": {"orient": "left", "values": [5, 50], "offset": -20, "tickSize": 20, "tickWidth": 2.5, "labels": false, "title": null, "zindex": 1}}}},
            {"data": {"name": "box"}, "transform": [{"filter": "datum.p == 6"}], "mark": {"type": "rule", "color": "#a35db3", "strokeWidth": 2}, "encoding": {"x": {"field": "d", "type": "quantitative", "scale": {"domain": [-3.24, 58.8], "nice": false, "zero": false}, "axis": {"orient": "bottom", "values": [0, 7, 14, 21, 28, 35, 42, 49], "tickSize": 15, "tickWidth": 2.5, "labelPadding": 7, "title": null}}, "y": {"field": "lo", "type": "quantitative", "scale": {"domain": [-15.6, 337.2], "nice": false, "zero": false}, "axis": {"orient": "right", "values": [0, 100, 200, 300], "tickSize": 14, "tickWidth": 2.5, "labelPadding": 9, "title": null}}, "y2": {"field": "hi"}}},
            {"data": {"name": "box"}, "transform": [{"filter": "datum.p == 6"}], "mark": {"type": "bar", "width": 36, "fill": "#e8d0e6", "stroke": "#a35db3", "strokeWidth": 2, "fillOpacity": 0.9}, "encoding": {"x": {"field": "d", "type": "quantitative", "scale": {"domain": [-3.24, 58.8], "nice": false, "zero": false}, "axis": {"orient": "bottom", "values": [0, 7, 14, 21, 28, 35, 42, 49], "tickSize": 15, "tickWidth": 2.5, "labelPadding": 7, "title": null}}, "y": {"field": "q1", "type": "quantitative", "scale": {"domain": [-15.6, 337.2], "nice": false, "zero": false}, "axis": null}, "y2": {"field": "q3"}}},
            {"data": {"name": "box"}, "transform": [{"filter": "datum.p == 6"}], "mark": {"type": "tick", "orient": "horizontal", "size": 36, "thickness": 5, "color": "#7d2f91", "opacity": 1}, "encoding": {"x": {"field": "d", "type": "quantitative", "scale": {"domain": [-3.24, 58.8], "nice": false, "zero": false}, "axis": {"orient": "bottom", "values": [0, 7, 14, 21, 28, 35, 42, 49], "tickSize": 15, "tickWidth": 2.5, "labelPadding": 7, "title": null}}, "y": {"field": "med", "type": "quantitative", "scale": {"domain": [-15.6, 337.2], "nice": false, "zero": false}, "axis": null}}},
            {"data": {"name": "pts"}, "transform": [{"filter": "datum.p == 6"}], "mark": {"type": "circle", "size": 145, "color": "#7a7a7a", "opacity": 0.8}, "encoding": {"x": {"field": "d", "type": "quantitative", "scale": {"domain": [-3.24, 58.8], "nice": false, "zero": false}, "axis": {"orient": "bottom", "values": [0, 7, 14, 21, 28, 35, 42, 49], "tickSize": 15, "tickWidth": 2.5, "labelPadding": 7, "title": null}}, "y": {"field": "s", "type": "quantitative", "scale": {"domain": [-15.6, 337.2], "nice": false, "zero": false}, "axis": null}}}
          ]}
        ]
      }]
    }]
  }]
}
